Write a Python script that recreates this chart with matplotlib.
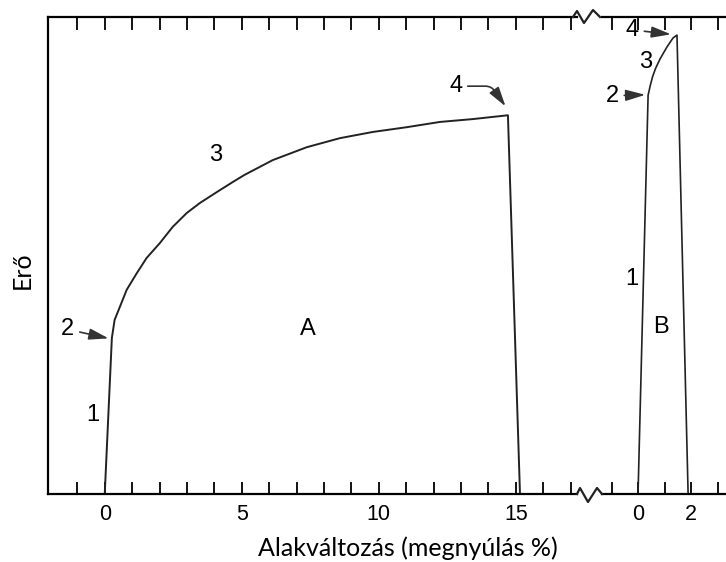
import matplotlib.pyplot as plt
from matplotlib.lines import Line2D

# A gorbe (szivos anyag)
a_x = [0, 0.26, 0.36, 0.55, 0.80, 1.17, 1.53, 2.01, 2.48, 2.99, 3.47, 4.09, 4.67,
       5.10, 6.13, 7.37, 8.58, 9.78, 11.02, 12.23, 13.43, 14.71, 15.15]
a_y = [0, 32.7, 36.5, 39.2, 42.8, 46.3, 49.5, 52.6, 56.0, 58.9, 61.0, 63.3, 65.4,
       66.9, 70.0, 72.7, 74.6, 75.9, 76.9, 78.0, 78.6, 79.4, 0]

# B gorbe (rideg anyag)
b_x = [0, 0.38, 0.46, 0.55, 0.66, 0.83, 1.09, 1.32, 1.47, 1.89]
b_y = [0, 83.6, 85.6, 87.5, 89.2, 91.2, 93.7, 95.6, 96.2, 0]

a_ticks = list(range(-1, 18))
a_labels = [str(t) if t in (0, 5, 10, 15) else '' for t in a_ticks]
b_ticks = [-1, 0, 1, 2, 3]
b_labels = ['', '0', '', '2', '']

W, H = 726, 562
fig = plt.figure(figsize=(7.26, 5.62), dpi=100)

bot = (H - 494) / H
top = (H - 17) / H
ax1 = fig.add_axes([48 / W, bot, (577 - 48) / W, top - bot])
ax2 = fig.add_axes([602 / W, bot, (726 - 602) / W, top - bot])

ax1.set_xlim(-2.07, 17.23)
ax2.set_xlim(-1.36, 3.32)
for ax in (ax1, ax2):
    ax.set_ylim(0, 100)
    ax.set_yticks([])
    for s in ax.spines.values():
        s.set_linewidth(1.6)
    ax.tick_params(axis='x', direction='in', top=True, length=9, width=1.3, pad=7)
ax1.spines['right'].set_visible(False)
ax2.spines['left'].set_visible(False)
ax2.spines['right'].set_visible(False)

ax1.set_xticks(a_ticks, a_labels, family='Liberation Sans', fontsize=15.5)
ax2.set_xticks(b_ticks, b_labels, family='Liberation Sans', fontsize=15.5)

ax1.plot(a_x, a_y, color='#222222', lw=1.4)
ax2.plot(b_x, b_y, color='#222222', lw=1.2)

# torespontok (cikkcakk)
zx_top = [573, 577, 584, 593, 600]
zy_top = [17, 11, 23, 10, 17]
zx_bot = [577, 580, 588, 597, 602]
zy_bot = [494, 488, 502, 488, 494]
fig.add_artist(Line2D([x / W for x in zx_top], [(H - y) / H for y in zy_top],
                      color='#222222', lw=1.6))
fig.add_artist(Line2D([x / W for x in zx_bot], [(H - y) / H for y in zy_bot],
                      color='#222222', lw=1.6))

tkw = dict(fontsize=17, family='Liberation Sans', ha='center', va='center')
akw = dict(arrowstyle='-|>,head_length=0.7,head_width=0.2', color='#333333', lw=1.2)

ax1.text(-0.45, 16.5, '1', **tkw)
ax1.annotate('2', xy=(0.24, 32.5), xytext=(-1.35, 34.5), arrowprops=akw, **tkw)
ax1.text(4.05, 71, '3', **tkw)
ax1.annotate('4', xy=(14.68, 80.8), xytext=(12.8, 85.5),
             arrowprops=dict(connectionstyle='angle,angleA=0,angleB=125,rad=6', **akw), **tkw)
ax1.text(7.4, 34.5, 'A', **tkw)

ax2.text(-0.22, 45, '1', **tkw)
ax2.annotate('2', xy=(0.38, 83.7), xytext=(-0.98, 83.5), arrowprops=akw, **tkw)
ax2.text(0.3, 90.5, '3', **tkw)
ax2.annotate('4', xy=(1.35, 96.3), xytext=(-0.22, 97.3), arrowprops=akw, **tkw)
ax2.text(0.87, 35, 'B', **tkw)

fig.text(408 / W, (H - 548) / H, 'Alakváltozás (megnyúlás %)', fontsize=18,
         family='Lato', ha='center', va='center')
fig.text(22 / W, (H - 270) / H, 'Erő', fontsize=18, family='Lato',
         rotation=90, ha='center', va='center')

fig.savefig('out.png', dpi=100)
